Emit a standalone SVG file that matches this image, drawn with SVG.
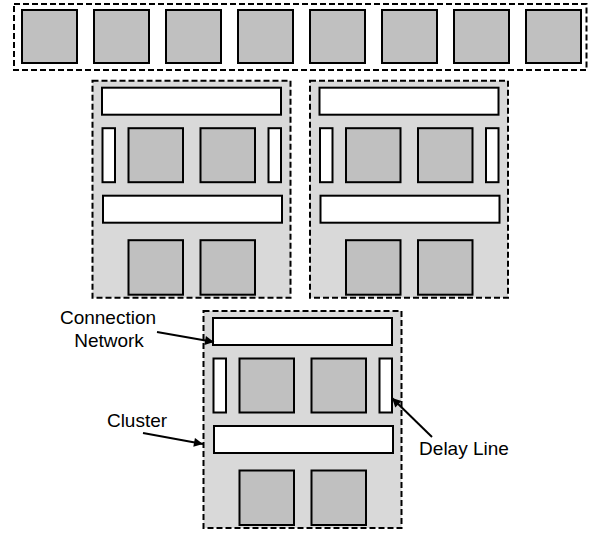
<svg xmlns="http://www.w3.org/2000/svg" width="590" height="533" viewBox="0 0 590 533">
<defs>
<style>
.dash{fill:none;stroke:#000;stroke-width:2;stroke-dasharray:6 3}
.cl{fill:#d9d9d9;stroke:#000;stroke-width:2;stroke-dasharray:6 3}
.sq{fill:#c0c0c0;stroke:#000;stroke-width:2}
.bar{fill:#fff;stroke:#000;stroke-width:2}
.lbl{font-family:"Liberation Sans",Arial,sans-serif;font-size:19px;fill:#000}
.arr{stroke:#000;stroke-width:2;fill:none;marker-end:url(#ah)}
</style>
<marker id="ah" viewBox="0 0 10 10" refX="10" refY="5" markerWidth="5" markerHeight="4.5" markerUnits="strokeWidth" orient="auto">
<path d="M0,0 L10,5 L0,10 z" fill="#000"/>
</marker>
<g id="clusterTpl">
<rect class="cl" x="0" y="0" width="198" height="217"/>
<rect class="bar" x="9.5" y="7" width="179" height="27"/>
<rect class="bar" x="10" y="47.5" width="12.5" height="54"/>
<rect class="sq" x="36" y="47.5" width="54.5" height="54"/>
<rect class="sq" x="108" y="47.5" width="54.5" height="54"/>
<rect class="bar" x="176" y="47.5" width="12.5" height="54"/>
<rect class="bar" x="10.5" y="115" width="179" height="27"/>
<rect class="sq" x="36" y="159.5" width="54.5" height="54.5"/>
<rect class="sq" x="108" y="159.5" width="54.5" height="54.5"/>
</g>
</defs>
<rect width="590" height="533" fill="#fff"/>
<g id="topRow">
<rect class="dash" x="14" y="4" width="572.5" height="66"/>
<rect class="sq" x="22" y="10" width="55" height="53"/>
<rect class="sq" x="94" y="10" width="55" height="53"/>
<rect class="sq" x="166" y="10" width="55" height="53"/>
<rect class="sq" x="238" y="10" width="55" height="53"/>
<rect class="sq" x="310" y="10" width="55" height="53"/>
<rect class="sq" x="382" y="10" width="55" height="53"/>
<rect class="sq" x="454" y="10" width="55" height="53"/>
<rect class="sq" x="526" y="10" width="55" height="53"/>
</g>
<g id="cluster1"><use href="#clusterTpl" x="92.5" y="80.7"/></g>
<g id="cluster2"><use href="#clusterTpl" x="310" y="80.7"/></g>
<g id="cluster3"><use href="#clusterTpl" x="203.5" y="311"/></g>
<g id="labels">
<text class="lbl" x="108" y="324" text-anchor="middle">Connection</text>
<text class="lbl" x="109" y="347" text-anchor="middle">Network</text>
<text class="lbl" x="137" y="427" text-anchor="middle">Cluster</text>
<text class="lbl" x="464" y="455" text-anchor="middle">Delay Line</text>
</g>
<g id="connectors">
<line class="arr" x1="157" y1="332" x2="214" y2="342"/>
<line class="arr" x1="143" y1="433" x2="203" y2="444"/>
<line class="arr" x1="432" y1="437" x2="392" y2="398"/>
</g>
</svg>
